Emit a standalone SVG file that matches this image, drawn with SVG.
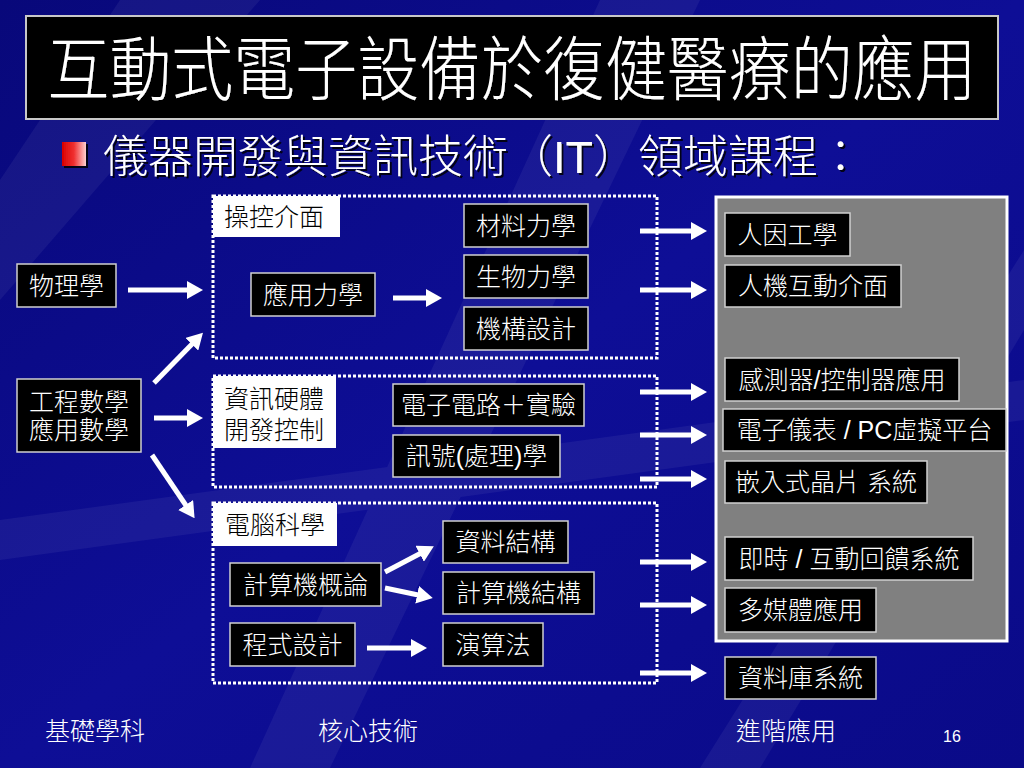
<svg xmlns="http://www.w3.org/2000/svg" width="1024" height="768" viewBox="0 0 1024 768">
<defs>
<linearGradient id="bg" x1="0" y1="0" x2="1" y2="1">
<stop offset="0" stop-color="#08087a"/>
<stop offset="0.5" stop-color="#0e0e96"/>
<stop offset="1" stop-color="#0a0a88"/>
</linearGradient>
<linearGradient id="bullet" x1="0" y1="0" x2="1" y2="0">
<stop offset="0" stop-color="#d80000"/>
<stop offset="0.5" stop-color="#f03030"/>
<stop offset="1" stop-color="#ffd0d0"/>
</linearGradient>
<filter id="shadow" x="-5%" y="-20%" width="110%" height="140%">
<feDropShadow dx="2" dy="2" stdDeviation="0.6" flood-color="#000" flood-opacity="0.85"/>
</filter>
<marker id="ah" markerUnits="userSpaceOnUse" markerWidth="16" markerHeight="18" refX="6" refY="9" orient="auto">
<path d="M0,0 L16,9 L0,18 z" fill="#fff"/>
</marker>
<style>
text{font-family:"Liberation Sans","Noto Sans CJK TC",sans-serif;}
.node rect{fill:#000;stroke:#d0d0d0;stroke-width:1.5;}
.node text{fill:#fff;font-size:25px;text-anchor:middle;font-weight:300;}
.label rect{fill:#fff;stroke:none;}
.label text{fill:#000;font-size:25px;font-weight:300;}
.grp{fill:none;stroke:#fff;stroke-width:3;stroke-dasharray:3 2;}
.conn line{stroke:#fff;stroke-width:5;marker-end:url(#ah);}
.foot{fill:#fff;font-size:25px;font-weight:300;}
</style>
</defs>

<rect width="1024" height="768" fill="url(#bg)"/>
<g fill="#ffffff" opacity="0.05">
<polygon points="120,0 260,0 0,300 0,180"/>
<polygon points="600,0 700,0 330,768 250,768"/>
<polygon points="1024,250 1024,330 760,768 700,768"/>
<polygon points="0,520 1024,380 1024,420 0,560"/>
</g>

<g id="title">
<rect x="26" y="16" width="972" height="103" fill="#000" stroke="#c8c8c8" stroke-width="2"/>
<text transform="translate(512,95) scale(0.885,1)" x="0" y="0" font-size="70" font-weight="300" fill="#fff" text-anchor="middle" filter="url(#shadow)">互動式電子設備於復健醫療的應用</text>
</g>

<g id="subtitle">
<rect x="62" y="142" width="24" height="24" fill="url(#bullet)" filter="url(#shadow)"/>
<text x="103" y="173" font-size="45" font-weight="300" fill="#fff" filter="url(#shadow)">儀器開發與資訊技術（IT）領域課程：</text>
</g>

<g id="groups">
<rect id="grp-ctrl" class="grp" x="213" y="196" width="444" height="162"/>
<rect id="grp-hw" class="grp" x="213" y="376" width="444" height="111"/>
<rect id="grp-cs" class="grp" x="213" y="503" width="444" height="180"/>
</g>

<g id="panel">
<rect x="716" y="197" width="291" height="444" fill="#808080" stroke="#fff" stroke-width="3"/>
</g>

<g id="label-ctrl" class="label"><rect x="213" y="196" width="127" height="41"/><text x="224" y="226">操控介面</text></g>
<g id="label-hw" class="label"><rect x="213" y="376" width="123" height="72"/><text x="224" y="408">資訊硬體</text><text x="224" y="439">開發控制</text></g>
<g id="label-cs" class="label"><rect x="213" y="503" width="124" height="43"/><text x="225" y="534">電腦科學</text></g>

<g id="n-phys" class="node"><rect x="17" y="264" width="99" height="43"/><text x="66.5" y="295">物理學</text></g>
<g id="n-math" class="node"><rect x="17" y="379" width="124" height="73"/><text x="79" y="411">工程數學</text><text x="79" y="439">應用數學</text></g>
<g id="n-appmech" class="node"><rect x="251" y="273" width="124" height="43"/><text x="313" y="304">應用力學</text></g>
<g id="n-mat" class="node"><rect x="464" y="204" width="124" height="43"/><text x="526" y="235">材料力學</text></g>
<g id="n-bio" class="node"><rect x="464" y="255" width="124" height="43"/><text x="526" y="286">生物力學</text></g>
<g id="n-mech" class="node"><rect x="464" y="307" width="124" height="43"/><text x="526" y="338">機構設計</text></g>
<g id="n-circ" class="node"><rect x="393" y="384" width="191" height="42"/><text x="488.5" y="414">電子電路＋實驗</text></g>
<g id="n-sig" class="node"><rect x="393" y="435" width="167" height="42"/><text x="476.5" y="465">訊號(處理)學</text></g>
<g id="n-ds" class="node"><rect x="443" y="521" width="125" height="42"/><text x="505.5" y="551">資料結構</text></g>
<g id="n-intro" class="node"><rect x="230" y="563" width="151" height="43"/><text x="305.5" y="594">計算機概論</text></g>
<g id="n-arch" class="node"><rect x="443" y="572" width="151" height="42"/><text x="518.5" y="602">計算機結構</text></g>
<g id="n-prog" class="node"><rect x="230" y="623" width="125" height="43"/><text x="292.5" y="654">程式設計</text></g>
<g id="n-algo" class="node"><rect x="443" y="623" width="100" height="43"/><text x="493" y="654">演算法</text></g>

<g id="n-hf" class="node"><rect x="725" y="213" width="125" height="43"/><text x="787.5" y="244">人因工學</text></g>
<g id="n-hci" class="node"><rect x="725" y="265" width="176" height="42"/><text x="813" y="295">人機互動介面</text></g>
<g id="n-sensor" class="node"><rect x="725" y="358" width="234" height="43"/><text x="842" y="389">感測器/控制器應用</text></g>
<g id="n-instr" class="node"><rect x="723" y="409" width="283" height="42"/><text x="864.5" y="439">電子儀表 / PC虛擬平台</text></g>
<g id="n-embed" class="node"><rect x="725" y="461" width="202" height="42"/><text x="826" y="491">嵌入式晶片 系統</text></g>
<g id="n-rt" class="node"><rect x="725" y="537" width="248" height="43"/><text x="849" y="568">即時 / 互動回饋系統</text></g>
<g id="n-mm" class="node"><rect x="725" y="588" width="151" height="44"/><text x="800.5" y="619">多媒體應用</text></g>
<g id="n-db" class="node"><rect x="725" y="657" width="151" height="42"/><text x="800.5" y="687">資料庫系統</text></g>

<g id="connectors" class="conn">
<line x1="128" y1="290" x2="193" y2="290"/>
<line x1="154" y1="383" x2="196" y2="340"/>
<line x1="154" y1="418" x2="193" y2="418"/>
<line x1="152" y1="455" x2="189" y2="510"/>
<line x1="393" y1="298" x2="432" y2="298"/>
<line x1="385" y1="572" x2="425" y2="551"/>
<line x1="385" y1="588" x2="423" y2="596"/>
<line x1="367" y1="648" x2="417" y2="648"/>
<line x1="640" y1="231" x2="697" y2="231"/>
<line x1="640" y1="290" x2="697" y2="290"/>
<line x1="640" y1="392" x2="697" y2="392"/>
<line x1="640" y1="435" x2="697" y2="435"/>
<line x1="640" y1="479" x2="697" y2="479"/>
<line x1="640" y1="562" x2="697" y2="562"/>
<line x1="640" y1="605" x2="697" y2="605"/>
<line x1="640" y1="673" x2="697" y2="673"/>
</g>

<g id="footer">
<text class="foot" x="45" y="740">基礎學科</text>
<text class="foot" x="318" y="740">核心技術</text>
<text class="foot" x="736" y="740">進階應用</text>
<text x="943" y="742" font-size="16" fill="#fff">16</text>
</g>
</svg>
